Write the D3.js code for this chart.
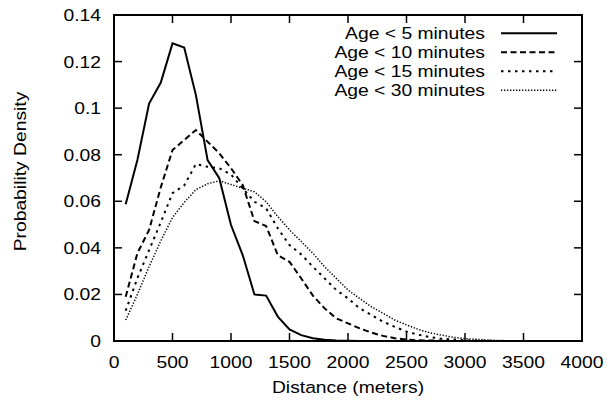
<!DOCTYPE html>
<html><head><meta charset="utf-8">
<script src="https://cdn.jsdelivr.net/npm/d3@7"></script>
<style>body{margin:0;background:#fff}text{font-family:"Liberation Sans",Arial,sans-serif}</style>
</head><body><svg id="c" width="607" height="402"></svg>
<script>
const distances = [100,200,300,400,500,600,700,800,900,1000,1100,1200,1300,1400,1500,1600,1700,1800,1900,2000,2100,2200,2300,2400,2500,2600,2700,2800,2900,3000,3100,3200,3300,3400,3500,3600];
const age5  = [0.0587,0.0777,0.102,0.111,0.1278,0.126,0.1056,0.0777,0.0699,0.0498,0.0369,0.0200,0.0195,0.0105,0.0050,0.0025,0.0012,0.0005,0.0002,0.0001,0,0,0,0,0,0,0,0,0,0,0,0,0,0,0,0];
const age10 = [0.019,0.0377,0.0477,0.066,0.0820,0.0863,0.0906,0.0856,0.0806,0.0742,0.0670,0.0515,0.0494,0.0369,0.0340,0.0269,0.0195,0.0140,0.0097,0.0076,0.0054,0.0036,0.0022,0.0012,0.0006,0.0003,0.0002,0.0001,0,0,0,0,0,0,0,0];
const age15 = [0.013,0.027,0.039,0.051,0.0635,0.0668,0.0760,0.0748,0.0742,0.0715,0.0656,0.0598,0.0570,0.0484,0.0412,0.0372,0.0319,0.0269,0.0219,0.0183,0.0140,0.0112,0.0083,0.0061,0.0040,0.0027,0.0017,0.0010,0.0006,0.0003,0.0002,0.0001,0,0,0,0];
const age30 = [0.009,0.020,0.032,0.043,0.053,0.0595,0.0650,0.0675,0.0688,0.0672,0.0656,0.0641,0.0598,0.0534,0.0477,0.0427,0.0377,0.0319,0.0269,0.0219,0.0183,0.0147,0.0119,0.0090,0.0069,0.0050,0.0035,0.0025,0.0016,0.0010,0.0007,0.0004,0.0002,0.0001,0,0];
const seriesNames = ["Age < 5 minutes","Age < 10 minutes","Age < 15 minutes","Age < 30 minutes"];
const xTicks = [0,500,1000,1500,2000,2500,3000,3500,4000];
const yTicks = [0,0.02,0.04,0.06,0.08,0.1,0.12,0.14];

const series = [age5, age10, age15, age30];
const dashes = [null, "6,3.5", "2.5,4.5", "1.3,1.7"];
const widths = [2, 2, 2, 1.5];

const svg = d3.select("#c");
const L=114, R=582, T=15, B=341;
const x = d3.scaleLinear().domain([0,4000]).range([L,R]);
const y = d3.scaleLinear().domain([0,0.14]).range([B,T]);
const tickLen = 8;
const FS = 16.5, SX = 1.17;

function label(px, py, str, anchor, rot){
  return svg.append("text")
    .attr("transform", `translate(${px},${py})` + (rot ? ` rotate(${rot})` : "") + ` scale(${SX},1)`)
    .attr("text-anchor", anchor).attr("font-size", FS).attr("fill","#000").text(str);
}

const g = svg.append("g");
xTicks.forEach(t=>{
  g.append("line").attr("x1",x(t)).attr("x2",x(t)).attr("y1",B).attr("y2",B-tickLen).attr("stroke","#000").attr("stroke-width",1.5);
  g.append("line").attr("x1",x(t)).attr("x2",x(t)).attr("y1",T).attr("y2",T+tickLen).attr("stroke","#000").attr("stroke-width",1.5);
  label(x(t), B+27, t, "middle");
});
yTicks.forEach(t=>{
  g.append("line").attr("x1",L).attr("x2",L+tickLen).attr("y1",y(t)).attr("y2",y(t)).attr("stroke","#000").attr("stroke-width",1.5);
  g.append("line").attr("x1",R).attr("x2",R-tickLen).attr("y1",y(t)).attr("y2",y(t)).attr("stroke","#000").attr("stroke-width",1.5);
  label(L-13, y(t)+6, d3.format("~g")(t), "end");
});

const line = d3.line().x((d,i)=>x(distances[i])).y(d=>y(d));
series.forEach((s,k)=>{
  g.append("path").attr("d",line(s)).attr("fill","none").attr("stroke","#000")
    .attr("stroke-width",widths[k]).attr("stroke-dasharray",dashes[k]).attr("stroke-linejoin","miter");
});

g.append("rect").attr("x",L).attr("y",T).attr("width",R-L).attr("height",B-T).attr("fill","none").attr("stroke","#000").attr("stroke-width",2);

seriesNames.forEach((n,k)=>{
  const ly = 33.3 + k*19;
  label(485, ly+6, n, "end");
  g.append("line").attr("x1",501).attr("x2",557).attr("y1",ly).attr("y2",ly).attr("stroke","#000")
    .attr("stroke-width",widths[k]).attr("stroke-dasharray",dashes[k]);
});

label((L+R)/2, 393, "Distance (meters)", "middle");
label(26, 171.5, "Probability Density", "middle", -90);
</script></body></html>
